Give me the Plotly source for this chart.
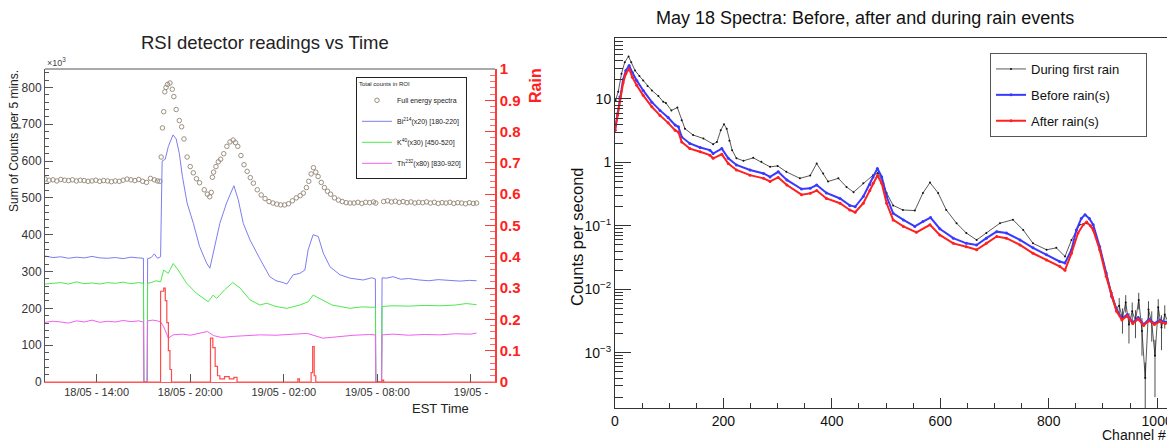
import pandas as pd
import plotly.graph_objects as go

FONT = "Liberation Sans, Arial, Helvetica, sans-serif"

# ---- left panel: hours after 18/05 00:00 EST, counts in units of 10^3 ----
fe_hours = [10.70, 10.95, 11.20, 11.45, 11.70, 11.95, 12.20, 12.45, 12.70, 12.95,
            13.20, 13.45, 13.70, 13.95, 14.20, 14.45, 14.70, 14.95, 15.20, 15.45,
            15.70, 15.95, 16.20, 16.45, 16.70, 16.95, 17.20, 17.45, 17.70, 17.90,
            18.05, 18.14, 18.22, 18.30, 18.37, 18.45, 18.55, 18.70, 18.85, 18.95,
            19.10, 19.30, 19.45, 19.60, 19.80, 20.00, 20.20, 20.40, 20.60, 20.90,
            21.10, 21.25, 21.35, 21.42, 21.50, 21.65, 21.80, 21.95, 22.15, 22.35,
            22.55, 22.75, 22.90, 23.05, 23.25, 23.45, 23.65, 23.85, 24.05, 24.30,
            24.55, 24.80, 25.05, 25.30, 25.55, 25.80, 26.05, 26.30, 26.55, 26.80,
            27.05, 27.25, 27.45, 27.60, 27.75, 27.90, 28.05, 28.20, 28.40, 28.60,
            28.80, 29.00, 29.25, 29.50, 29.75, 30.00, 30.25, 30.50, 30.75, 31.00,
            31.25, 31.50, 31.75, 31.90, 32.10, 32.40, 32.65, 32.90, 33.15, 33.40,
            33.65, 33.90, 34.15, 34.40, 34.65, 34.90, 35.15, 35.40, 35.65, 35.90,
            36.15, 36.40, 36.65, 36.90, 37.15, 37.40, 37.65, 37.90, 38.15, 38.36]
fe_counts = [551, 548, 549, 546, 550, 548, 547, 549, 546, 548,
             547, 545, 546, 548, 545, 547, 546, 544, 546, 545,
             548, 551, 549, 547, 550, 545, 542, 553, 549, 546,
             545, 611, 690, 734, 788, 800, 808, 812, 795, 775,
             740, 710, 693, 660, 611, 585, 568, 552, 541, 522,
             510, 503, 515, 556, 570, 585, 598, 605, 620, 640,
             652, 657, 650, 640, 615, 590, 572, 555, 540, 522,
             508, 498, 490, 486, 483, 481, 481, 484, 492, 500,
             506, 513, 528, 545, 565, 582, 570, 558, 542, 528,
             518, 510, 500, 494, 490, 487, 486, 486, 488, 485,
             488, 487, 489, 486, None, 490, 492, 489, 491, 488,
             490, 487, 489, 486, 488, 487, 489, 486, 488, 485,
             487, 486, 488, 485, 487, 486, 484, 487, 485, 486]

bi_hours = [10.7, 11.2, 11.7, 12.2, 12.7, 13.2, 13.7, 14.2, 14.7, 15.2,
            15.7, 16.2, 16.7, 17.0, 17.03, 17.24, 17.27, 17.5, 17.7, 17.9,
            18.1, 18.2, 18.4, 18.6, 18.9, 19.1, 19.3, 19.5, 19.8, 20.2,
            20.6, 21.05, 21.26, 21.47, 21.9, 22.33, 22.8, 23.08, 23.4, 23.83,
            24.26, 24.5, 25.1, 25.5, 25.96, 26.2, 26.6, 27.03, 27.35, 27.56,
            27.88, 28.21, 28.53, 28.96, 29.6, 30.24, 31.09, 31.63, 31.87, 31.9,
            32.27, 32.3, 32.6, 33.0, 33.5, 34.0, 34.7, 35.3, 35.9, 36.6,
            37.3, 37.9, 38.36]
bi_counts = [342, 338, 340, 336, 339, 337, 341, 337, 336, 338,
             335, 339, 337, 336, 0, 0, 335, 338, 348, 336,
             340, 600, 605, 640, 671, 660, 621, 558, 486, 431,
             368, 323, 309, 350, 431, 486, 533, 495, 431, 386,
             350, 332, 286, 275, 270, 266, 291, 295, 304, 359,
             400, 395, 350, 313, 291, 282, 277, 283, 280, 0,
             0, 283, 282, 286, 279, 281, 277, 275, 278, 276,
             274, 276, 275]

k_hours = [10.7, 11.2, 11.7, 12.2, 12.7, 13.2, 13.7, 14.2, 14.7, 15.2,
           15.7, 16.2, 16.7, 17.0, 17.03, 17.24, 17.27, 17.5, 17.8, 18.1,
           18.3, 18.59, 18.91, 19.23, 19.77, 20.4, 21.15, 21.47, 21.69, 22.2,
           22.73, 23.2, 23.83, 24.47, 24.9, 25.5, 26.2, 27.03, 27.56, 27.88,
           28.3, 29.1, 30.24, 31.0, 31.63, 31.87, 31.9, 32.27, 32.3, 33.0,
           34.0, 35.0, 36.0, 37.0, 37.7, 38.36]
k_counts = [266, 268, 270, 266, 272, 267, 269, 266, 270, 268,
            271, 267, 270, 268, 0, 0, 268, 270, 275, 272,
            304, 295, 322, 304, 268, 241, 218, 236, 227, 250,
            270, 255, 223, 209, 214, 205, 200, 209, 218, 236,
            227, 209, 200, 204, 203, 203, 0, 0, 205, 207,
            206, 208, 207, 209, 213, 210]

th_hours = [10.7, 11.2, 11.7, 12.2, 12.7, 13.2, 13.7, 14.2, 14.7, 15.2,
            15.7, 16.2, 16.7, 17.0, 17.03, 17.24, 17.27, 17.6, 17.9, 18.1,
            18.3, 18.6, 18.9, 19.5, 20.0, 20.6, 21.1, 21.5, 22.0, 22.8,
            23.6, 24.5, 25.5, 26.5, 27.5, 28.5, 29.3, 30.5, 31.5, 31.87,
            31.9, 32.27, 32.3, 33.0, 34.0, 35.0, 36.0, 37.0, 38.0, 38.36]
th_counts = [162, 165, 163, 160, 166, 163, 168, 162, 165, 163,
             167, 164, 166, 163, 0, 0, 166, 168, 166, 163,
             150, 119, 128, 130, 127, 133, 137, 126, 121, 124,
             126, 128, 127, 130, 132, 119, 123, 127, 129, 128,
             0, 0, 128, 130, 127, 129, 128, 131, 130, 133]

rain_hours = [10.69, 18.05, 18.1, 18.3, 18.4, 18.5, 18.6, 18.7, 18.8, 21.25,
              21.3, 21.45, 21.6, 21.75, 21.9, 22.2, 22.5, 22.8, 23.0, 26.8,
              26.9, 27.0, 27.65, 27.75, 27.85, 27.95, 28.05, 32.25, 32.3, 32.4,
              39.54]
rain_vals = [0, 0, 0.29, 0.30, 0.26, 0.19, 0.10, 0.04, 0, 0,
             0.14, 0.11, 0.05, 0.02, 0.01, 0.017, 0.01, 0.015, 0, 0,
             0.01, 0, 0, 0.03, 0.113, 0.02, 0, 0, 0.006, 0,
             0]

tick_hours = [14, 20, 26, 32, 38]
tick_text = ["18/05 - 14:00", "18/05 - 20:00", "19/05 - 02:00", "19/05 - 08:00", "19/05 -"]
x_range_hours = [10.69, 39.54]

# ---- right panel: counts per second vs channel ----
ch_during = [1, 6, 12, 18, 25, 30, 37, 45, 52, 60,
             68, 80, 89, 94, 104, 115, 123, 129, 144, 163,
             181, 188, 195, 201, 206, 211, 216, 224, 237, 255,
             270, 286, 300, 316, 341, 360, 372, 384, 393, 412,
             427, 440, 458, 476, 485, 495, 501, 513, 531, 553,
             568, 581, 596, 611, 630, 648, 667, 685, 710, 734,
             753, 771, 796, 814, 830, 842, 857, 870, 882, 894,
             906, 916, 925, 930, 936, 942, 948, 954, 960, 966,
             972, 978, 984, 990, 996, 1002, 1008, 1014, 1020]
cps_during = [9.5, 13, 25, 38, 46.7, 38, 28, 23, 19.6, 16,
              13.6, 11.1, 9.0, 8.6, 6.6, 7.3, 4.6, 3.4, 2.7, 2.38,
              1.94, 2.1, 3.2, 4.0, 3.4, 2.2, 1.56, 1.16, 1.06, 1.18,
              1.02, 0.85, 0.88, 0.71, 0.56, 0.62, 0.96, 0.67, 0.50, 0.56,
              0.41, 0.34, 0.47, 0.63, 0.68, 0.47, 0.33, 0.21, 0.178, 0.174,
              0.33, 0.48, 0.33, 0.178, 0.11, 0.077, 0.060, 0.077, 0.11, 0.125,
              0.086, 0.053, 0.042, 0.045, 0.033, 0.060, 0.104, 0.11, 0.092, 0.047,
              0.018, 0.0088, 0.0051, 0.0055, 0.0035, 0.0062, 0.0028, 0.0045, 0.0032, 0.0068,
              0.0022, 0.0004, 0.0048, 0.0030, 0.0009, 0.0052, 0.0025, 0.0040, 0.0031]
err_during = [0] * 73 + [0.0018, 0.0015, 0.0019, 0.0014, 0.0017, 0.0015, 0.0020, 0.0013,
                         0.0003, 0.0017, 0.0015, 0.0007, 0.0018, 0.0014, 0.0016, 0.0015]

ch_before = [0, 5, 9, 15, 20, 26, 32, 40, 52, 68,
             83, 98, 111, 117, 123, 138, 157, 175, 181, 197,
             209, 224, 249, 274, 286, 301, 317, 344, 360, 372,
             390, 415, 433, 443, 458, 470, 476, 484, 492, 501,
             513, 532, 553, 568, 582, 599, 624, 648, 667, 685,
             704, 722, 747, 771, 796, 820, 830, 842, 851, 860,
             867, 875, 882, 894, 906, 916, 925, 935, 945, 955,
             965, 975, 985, 995, 1005, 1015, 1022]
cps_before = [3.2, 5.9, 10.7, 20, 28, 33.7, 26, 19.6, 13.6, 8.9,
              6.6, 5.1, 3.87, 3.63, 2.52, 1.99, 1.72, 1.56, 1.38, 1.65,
              1.16, 0.91, 0.76, 0.67, 0.59, 0.71, 0.53, 0.38, 0.39, 0.44,
              0.33, 0.27, 0.21, 0.20, 0.29, 0.45, 0.59, 0.80, 0.59, 0.29,
              0.158, 0.124, 0.098, 0.117, 0.135, 0.09, 0.064, 0.053, 0.050, 0.064,
              0.081, 0.077, 0.060, 0.045, 0.035, 0.0275, 0.026, 0.042, 0.086, 0.13,
              0.15, 0.13, 0.104, 0.047, 0.018, 0.0078, 0.0048, 0.0035, 0.004, 0.003,
              0.0036, 0.0028, 0.0034, 0.0029, 0.0033, 0.003, 0.0032]

ch_after = [0, 5, 9, 15, 20, 26, 32, 40, 52, 68,
            83, 98, 111, 117, 123, 138, 157, 175, 181, 197,
            209, 224, 249, 274, 286, 301, 317, 344, 360, 372,
            390, 415, 433, 443, 458, 470, 476, 484, 492, 501,
            513, 532, 556, 581, 599, 624, 648, 667, 685, 704,
            722, 747, 771, 796, 820, 830, 842, 854, 864, 870,
            877, 882, 894, 906, 916, 925, 935, 945, 955, 965,
            975, 985, 995, 1005, 1015, 1022]
cps_after = [3.2, 5.6, 10, 18, 25, 29.9, 22, 16.4, 11.4, 7.5,
             5.5, 4.2, 3.2, 3.0, 2.1, 1.65, 1.47, 1.30, 1.16, 1.34,
             0.96, 0.76, 0.63, 0.56, 0.50, 0.58, 0.44, 0.31, 0.325, 0.36,
             0.27, 0.227, 0.178, 0.164, 0.227, 0.36, 0.47, 0.62, 0.47, 0.227,
             0.124, 0.098, 0.079, 0.104, 0.072, 0.053, 0.047, 0.042, 0.053, 0.068,
             0.064, 0.050, 0.037, 0.029, 0.023, 0.020, 0.037, 0.077, 0.105, 0.115,
             0.1, 0.086, 0.042, 0.016, 0.0078, 0.0045, 0.0033, 0.0038, 0.0029, 0.0034,
             0.0027, 0.0032, 0.0028, 0.0031, 0.0029, 0.003]

log_ticks = [0.001, 0.01, 0.1, 1, 10]
log_ticktext = ["10<sup>\u22123</sup>", "10<sup>\u22122</sup>", "10<sup>\u22121</sup>", "1", "10"]
log_minor = [m * 10 ** e for e in range(-4, 2) for m in range(2, 10)]

base = pd.Timestamp("2017-05-18")


def to_time(hours):
    return base + pd.to_timedelta(hours, unit="h")


# the page body has an 8px margin, so the figure is drawn 8px in from the corner
OFF = 8
W, H = 1175 - OFF, 442 - OFF


def px(x):
    return (x - OFF) / W


def py(y):
    return 1 - (y - OFF) / H


fig = go.Figure()

# %% left panel
fig.add_trace(go.Scatter(
    x=to_time(fe_hours), y=fe_counts, mode="markers", name="Full energy spectra",
    marker=dict(symbol="circle-open", size=4.5, color="#9c8f80", line=dict(width=1)),
    xaxis="x", yaxis="y", legend="legend", legendgroup="fe"))
fig.add_trace(go.Scatter(
    x=to_time(bi_hours), y=bi_counts, mode="lines",
    name="Bi<sup>214</sup>(x20) [180-220]", line=dict(color="#7d7df0", width=1),
    xaxis="x", yaxis="y", legend="legend", legendgroup="bi"))
fig.add_trace(go.Scatter(
    x=to_time(k_hours), y=k_counts, mode="lines",
    name="K<sup>40</sup>(x30) [450-520]", line=dict(color="#4cea4c", width=1),
    xaxis="x", yaxis="y", legend="legend", legendgroup="k"))
fig.add_trace(go.Scatter(
    x=to_time(th_hours), y=th_counts, mode="lines",
    name="Th<sup>232</sup>(x80) [830-920]", line=dict(color="#f060f0", width=1),
    xaxis="x", yaxis="y", legend="legend", legendgroup="th"))
fig.add_trace(go.Scatter(
    x=to_time(rain_hours), y=rain_vals, mode="lines", line_shape="hv",
    line=dict(color="#ff4c4c", width=1.2), showlegend=False,
    xaxis="x", yaxis="y3"))

# %% right panel
fig.add_trace(go.Scatter(
    x=ch_during, y=cps_during, mode="lines+markers",
    name="During first rain\u00a0\u00a0\u00a0\u00a0\u00a0\u00a0",
    line=dict(color="#111111", width=0.7), marker=dict(size=2, color="#111111"),
    error_y=dict(type="data", array=err_during, visible=True, thickness=0.8, width=0,
                 color="#222222"),
    xaxis="x2", yaxis="y2", legend="legend2", legendgroup="during"))
fig.add_trace(go.Scatter(
    x=ch_before, y=cps_before, mode="lines+markers", name="Before rain(s)",
    line=dict(color="#3a3aff", width=2), marker=dict(size=3, color="#3a3aff"),
    xaxis="x2", yaxis="y2", legend="legend2", legendgroup="before"))
fig.add_trace(go.Scatter(
    x=ch_after, y=cps_after, mode="lines+markers", name="After rain(s)",
    line=dict(color="#ff2020", width=2), marker=dict(size=3, color="#ff2020"),
    xaxis="x2", yaxis="y2", legend="legend2", legendgroup="after"))

axis_grey = "#555555"
fig.update_layout(
    template="none",
    width=W, height=H,
    margin=dict(l=0, r=0, t=0, b=0, autoexpand=False),
    paper_bgcolor="white", plot_bgcolor="white",
    font=dict(family=FONT, color="#222222"),
    xaxis=dict(domain=[px(45), px(495)], anchor="y", type="date", automargin=False,
               range=list(to_time(x_range_hours)),
               tickvals=list(to_time(tick_hours)), ticktext=tick_text,
               ticks="inside", ticklen=8, tickcolor=axis_grey,
               showline=True, linecolor="#ff5a5a", linewidth=1,
               showgrid=False, zeroline=False,
               tickfont=dict(size=11, color="#333333")),
    yaxis=dict(domain=[py(382), py(69)], anchor="x", range=[0, 850], dtick=100,
               automargin=False,
               ticks="inside", ticklen=8, tickcolor=axis_grey,
               minor=dict(ticks="inside", ticklen=4, dtick=20, tickcolor=axis_grey),
               showline=True, linecolor=axis_grey, showgrid=False, zeroline=False,
               tickfont=dict(size=12, color="#333333")),
    yaxis3=dict(overlaying="y", anchor="x", side="right", range=[0, 1], dtick=0.1,
                automargin=False,
                ticks="inside", ticklen=10, tickcolor="#ff3a3a",
                minor=dict(ticks="inside", ticklen=5, dtick=0.02, tickcolor="#ff6a6a"),
                showline=True, linecolor="#ff3a3a", linewidth=1.5,
                showgrid=False, zeroline=False,
                tickfont=dict(size=15, color="#ff2020", weight="bold")),
    xaxis2=dict(domain=[px(615), px(1168)], anchor="y2", range=[0, 1020], dtick=200,
                automargin=False,
                ticks="inside", ticklen=10, tickcolor="#333333",
                minor=dict(ticks="inside", ticklen=5, dtick=50, tickcolor="#333333"),
                showline=True, mirror=True, linecolor="#333333",
                showgrid=False, zeroline=False,
                tickfont=dict(size=14, color="#111111")),
    yaxis2=dict(domain=[py(408), py(38)], anchor="x2", type="log", range=[-3.87, 1.96],
                automargin=False,
                tickvals=log_ticks, ticktext=log_ticktext,
                ticks="inside", ticklen=16, tickcolor="#333333",
                minor=dict(ticks="inside", ticklen=8, tickvals=log_minor, tickcolor="#333333"),
                showline=True, mirror=True, linecolor="#333333",
                showgrid=False, zeroline=False,
                tickfont=dict(size=14, color="#111111")),
    legend=dict(x=px(356), y=py(77), xanchor="left", yanchor="top",
                bgcolor="white", bordercolor="#222222", borderwidth=1,
                font=dict(size=7, color="#222222"), itemwidth=30, tracegroupgap=2,
                title=dict(text="Total counts in ROI", font=dict(size=6))),
    legend2=dict(x=px(990), y=py(53), xanchor="left", yanchor="top",
                 bgcolor="white", bordercolor="#555555", borderwidth=1,
                 font=dict(size=13, color="#111111"), itemwidth=30, tracegroupgap=6),
    shapes=[dict(type="line", xref="x domain", yref="y domain", x0=0, x1=1, y0=1, y1=1,
                 line=dict(color=axis_grey, width=1))],
)

fig.add_annotation(text="RSI detector readings vs Time", xref="paper", yref="paper",
                   x=px(265), y=py(42), xanchor="center", yanchor="middle",
                   showarrow=False, font=dict(size=18.5, color="#222"))
fig.add_annotation(text="\u00d710<sup>3</sup>", xref="paper", yref="paper",
                   x=px(45), y=py(62), xanchor="left", yanchor="middle",
                   showarrow=False, font=dict(size=9, color="#444"))
fig.add_annotation(text="Sum of Counts per 5 mins.", xref="paper", yref="paper",
                   x=px(14), y=py(141), xanchor="center", yanchor="middle", textangle=-90,
                   showarrow=False, font=dict(size=12, color="#222"))
fig.add_annotation(text="<b>Rain</b>", xref="paper", yref="paper",
                   x=px(535), y=py(86), xanchor="center", yanchor="middle", textangle=-90,
                   showarrow=False, font=dict(size=16, color="#ff2020"))
fig.add_annotation(text="EST Time", xref="paper", yref="paper",
                   x=px(471), y=py(408), xanchor="right", yanchor="middle",
                   showarrow=False, font=dict(size=13, color="#222"))
fig.add_annotation(text="May 18 Spectra: Before, after and during rain events",
                   xref="paper", yref="paper", x=px(865), y=py(18),
                   xanchor="center", yanchor="middle", showarrow=False,
                   font=dict(size=18, color="#111"))
fig.add_annotation(text="Counts per second", xref="paper", yref="paper",
                   x=px(577), y=py(237), xanchor="center", yanchor="middle", textangle=-90,
                   showarrow=False, font=dict(size=16.5, color="#111"))
fig.add_annotation(text="Channel #", xref="paper", yref="paper",
                   x=px(1168), y=py(434.5), xanchor="right", yanchor="middle",
                   showarrow=False, font=dict(size=14, color="#111"))

fig.write_html("out.html")
